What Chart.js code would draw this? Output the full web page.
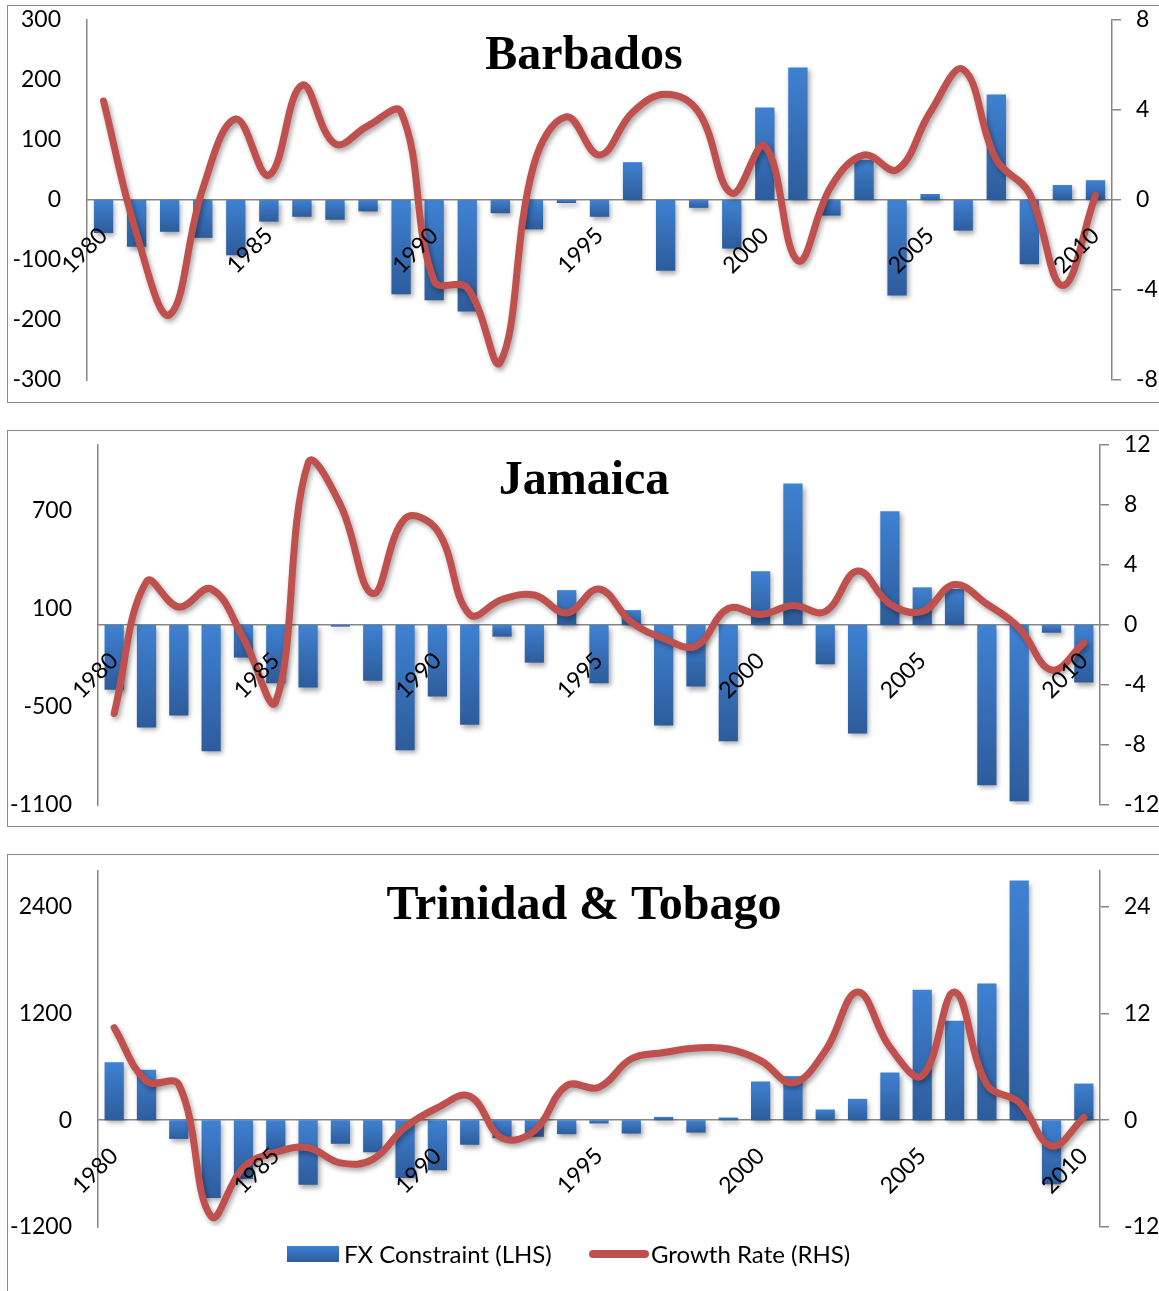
<!DOCTYPE html>
<html>
<head>
<meta charset="utf-8">
<script src="https://cdn.jsdelivr.net/npm/chart.js@4.4.0/dist/chart.umd.min.js"></script>
<style>
  html, body { margin: 0; padding: 0; background: #fff; overflow: hidden; width: 1159px; height: 1291px; }
  .panel { position: absolute; left: 7px; width: 1160px; box-sizing: border-box; border: 1px solid #8a8a8a; background: #fff; }
  .panel canvas { position: absolute; left: 0; top: 0; }
  .legend { position: absolute; font-family: Lato, "Open Sans", sans-serif; font-size: 24px; color: #000; white-space: nowrap; }
</style>
</head>
<body>
<div class="panel" id="p1" style="top:5px;height:398px;"><canvas id="c1" width="1158" height="396"></canvas></div>
<div class="panel" id="p2" style="top:430px;height:397px;"><canvas id="c2" width="1158" height="395"></canvas></div>
<div class="panel" id="p3" style="top:854px;height:445px;"><canvas id="c3" width="1158" height="443"></canvas></div>

<div class="legend" style="left:287px;top:1246px;width:52px;height:16px;background:linear-gradient(#3f81d2,#2d5c9b);"></div>
<div class="legend" style="left:344px;top:1239px;line-height:30px;">FX Constraint (LHS)</div>
<div class="legend" style="left:589px;top:1250px;width:60px;height:8px;border-radius:4px;background:#c0504d;"></div>
<div class="legend" style="left:651px;top:1239px;line-height:30px;">Growth Rate (RHS)</div>

<script>
const years = ['1980','1981','1982','1983','1984','1985','1986','1987','1988','1989','1990','1991','1992','1993','1994','1995','1996','1997','1998','1999','2000','2001','2002','2003','2004','2005','2006','2007','2008','2009','2010'];

const barbadosFX = [-55,-78,-53,-63,-92,-36,-28,-33,-19,-157,-167,-186,-22,-49,-5,-28,63,-118,-13,-81,154,221,-26,67,-159,10,-51,176,-107,25,33];
const barbadosGrowth = [4.4,-1.5,-5.1,0.5,3.6,1.1,5.1,2.5,3.3,3.9,-3.6,-3.9,-7.2,1.5,3.7,2.0,3.9,4.7,3.9,0.3,2.4,-2.7,0.6,2.0,1.35,3.9,5.8,1.8,0.3,-3.8,0.2];

const jamaicaFX = [-395,-626,-553,-772,-199,-356,-382,-10,-341,-766,-437,-610,-71,-230,213,-356,91,-614,-376,-711,329,864,-240,-663,695,230,220,-980,-1077,-47,-352];
const jamaicaGrowth = [-5.9,2.9,1.2,2.4,-0.9,-5.1,10.8,8.0,2.1,7.1,6.3,0.7,1.7,2.0,0.8,2.4,0.2,-0.9,-1.4,1.1,0.7,1.3,0.9,3.6,1.4,0.9,2.7,1.4,-0.2,-3.0,-1.2];

const trinidadFX = [650,566,-210,-875,-660,-340,-725,-265,-360,-650,-562,-276,-202,-187,-157,-37,-150,37,-139,30,435,495,120,240,536,1466,1117,1537,2692,-720,412];
const trinidadGrowth = [10.4,4.4,4.0,-10.8,-5.3,-3.6,-3.1,-4.8,-4.4,-0.8,1.4,2.7,-2.0,-1.2,3.9,3.7,6.9,7.6,8.1,8.0,6.7,4.2,7.8,14.4,8.2,5.0,14.4,4.0,2.0,-2.9,0.3];

const barbadosLeftTicks = [-300,-200,-100,0,100,200,300];
const barbadosRightTicks = [-8,-4,0,4,8];
const jamaicaLeftTicks = [-1100,-500,100,700];
const jamaicaRightTicks = [-12,-8,-4,0,4,8,12];
const trinidadLeftTicks = [-1200,0,1200,2400];
const trinidadRightTicks = [-12,0,12,24];

const titles = ['Barbados', 'Jamaica', 'Trinidad & Tobago'];
const seriesNames = ['FX Constraint (LHS)', 'Growth Rate (RHS)'];

const AXIS_GRAY = '#868686';
const TICK_FONT = { family: 'Lato', size: 23 };

function barFill(ctx) {
  const chart = ctx.chart;
  if (!chart.chartArea || ctx.raw === undefined) return '#3a76c2';
  const y = chart.scales.y;
  const p0 = y.getPixelForValue(0), p1 = y.getPixelForValue(ctx.raw);
  const top = Math.min(p0, p1), bot = Math.max(p0, p1);
  if (bot - top < 1) return '#3a76c2';
  const g = chart.ctx.createLinearGradient(0, top, 0, bot);
  g.addColorStop(0, '#3f81d2');
  g.addColorStop(1, '#2d5c9b');
  return g;
}

const shadowPlugin = {
  id: 'shadow',
  beforeDatasetDraw(chart) {
    const ctx = chart.ctx;
    ctx.save();
    ctx.shadowColor = 'rgba(0,0,0,0.35)';
    ctx.shadowBlur = 5;
    ctx.shadowOffsetX = 2;
    ctx.shadowOffsetY = 3;
  },
  afterDatasetDraw(chart) { chart.ctx.restore(); }
};

const titlePlugin = {
  id: 'panelTitle',
  afterDatasetsDraw(chart, args, opts) {
    const ctx = chart.ctx;
    ctx.save();
    ctx.font = 'bold 48px "Liberation Serif", "Times New Roman", serif';
    ctx.fillStyle = '#000';
    ctx.textAlign = 'center';
    ctx.textBaseline = 'alphabetic';
    ctx.fillText(opts.text, opts.x, opts.y);
    ctx.restore();
  }
};

function noPad(s) { s.paddingTop = 0; s.paddingBottom = 0; }

function makeChart(id, cfg) {
  const ctx = document.getElementById(id);
  return new Chart(ctx, {
    data: {
      labels: years,
      datasets: [
        {
          type: 'bar', label: seriesNames[0], data: cfg.fx, yAxisID: 'y', order: 2,
          backgroundColor: barFill, borderWidth: 0,
          categoryPercentage: 1.0, barPercentage: cfg.barPct
        },
        {
          type: 'line', label: seriesNames[1], data: cfg.growth, yAxisID: 'y1', order: 1,
          borderColor: '#c0504d', borderWidth: 7, tension: 0.4, pointRadius: 0,
          borderCapStyle: 'round', borderJoinStyle: 'round', fill: false
        }
      ]
    },
    options: {
      responsive: false,
      animation: false,
      devicePixelRatio: 1,
      layout: { padding: { top: cfg.padTop, bottom: cfg.padBottom, left: 0, right: 0 } },
      plugins: {
        legend: { display: false },
        tooltip: { enabled: false },
        panelTitle: { text: cfg.title, x: 576, y: cfg.titleY }
      },
      scales: {
        x: {
          position: { y: 0 },
          grid: { display: false },
          border: { display: true, color: AXIS_GRAY, width: 1.5 },
          ticks: {
            z: 1,
            autoSkip: false, minRotation: 45, maxRotation: 45, padding: 14,
            color: '#000', font: TICK_FONT,
            callback: (v, i) => (i % 5 === 0 ? years[i] : '')
          },
          afterFit: s => { s.height = 0; }
        },
        y: {
          position: 'left', min: cfg.lmin, max: cfg.lmax,
          grid: { display: false, drawTicks: false },
          border: { display: true, color: AXIS_GRAY, width: 1.5 },
          ticks: { color: '#000', font: TICK_FONT, padding: 26, callback: v => String(v) },
          afterBuildTicks: s => { s.ticks = cfg.lticks.map(v => ({ value: v })); },
          afterFit: s => { s.width = cfg.leftW; noPad(s); }
        },
        y1: {
          position: 'right', min: cfg.rmin, max: cfg.rmax,
          grid: { display: true, drawOnChartArea: false, drawTicks: true, tickLength: 9, color: AXIS_GRAY, lineWidth: 1.5 },
          border: { display: true, color: AXIS_GRAY, width: 1.5 },
          ticks: { color: '#000', font: TICK_FONT, padding: 15, callback: v => String(v) },
          afterBuildTicks: s => { s.ticks = cfg.rticks.map(v => ({ value: v })); },
          afterFit: s => { s.width = cfg.rightW; noPad(s); }
        }
      }
    },
    plugins: [shadowPlugin, titlePlugin]
  });
}

makeChart('c1', {
  title: titles[0], titleY: 63, fx: barbadosFX, growth: barbadosGrowth, barPct: 0.585,
  lmin: -300, lmax: 300, lticks: barbadosLeftTicks, rmin: -8, rmax: 8, rticks: barbadosRightTicks,
  padTop: 14, padBottom: 22, leftW: 79, rightW: 54
});
makeChart('c2', {
  title: titles[1], titleY: 63, fx: jamaicaFX, growth: jamaicaGrowth, barPct: 0.595,
  lmin: -1100, lmax: 1100, lticks: jamaicaLeftTicks, rmin: -12, rmax: 12, rticks: jamaicaRightTicks,
  padTop: 14, padBottom: 21, leftW: 90, rightW: 66
});
makeChart('c3', {
  title: titles[2], titleY: 64, fx: trinidadFX, growth: trinidadGrowth, barPct: 0.595,
  lmin: -1200, lmax: 2800, lticks: trinidadLeftTicks, rmin: -12, rmax: 28, rticks: trinidadRightTicks,
  padTop: 16, padBottom: 71, leftW: 90, rightW: 66
});
</script>
</body>
</html>
